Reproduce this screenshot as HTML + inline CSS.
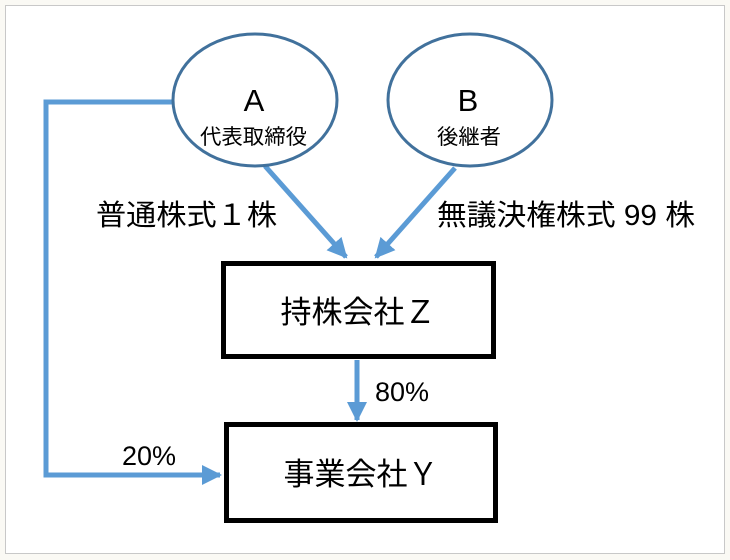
<!DOCTYPE html>
<html><head><meta charset="utf-8"><style>
html,body{margin:0;padding:0;background:#faf9f4;}
svg{display:block;font-family:"Liberation Sans","Noto Sans CJK JP",sans-serif;}
</style></head><body>
<svg width="730" height="560" viewBox="0 0 730 560" xmlns="http://www.w3.org/2000/svg">
<defs>
<marker id="ar" viewBox="0 0 10 10" refX="9" refY="5" markerWidth="4" markerHeight="4" orient="auto" markerUnits="strokeWidth">
<path d="M0,0 L10,5 L0,10 z" fill="#5b9bd5"/></marker>
</defs>
<rect x="5.5" y="5.5" width="719" height="548" fill="#fff" stroke="#c8c8c8" stroke-width="1"/>
<polyline points="173,102 46,102 46,475 220,475" fill="none" stroke="#5b9bd5" stroke-width="5" marker-end="url(#ar)"/>
<line x1="265" y1="166" x2="346" y2="257" stroke="#5b9bd5" stroke-width="5" marker-end="url(#ar)"/>
<line x1="455" y1="168" x2="376" y2="257" stroke="#5b9bd5" stroke-width="5" marker-end="url(#ar)"/>
<line x1="357" y1="360" x2="357" y2="420" stroke="#5b9bd5" stroke-width="5" marker-end="url(#ar)"/>
<ellipse cx="255" cy="100" rx="82" ry="66" fill="#fff" stroke="#41719c" stroke-width="3"/>
<ellipse cx="470" cy="100" rx="82" ry="66" fill="#fff" stroke="#41719c" stroke-width="3"/>
<text x="254" y="111" font-size="31" text-anchor="middle">A</text>
<text x="200" y="144" font-size="21" textLength="107" lengthAdjust="spacingAndGlyphs">代表取締役</text>
<text x="468" y="111" font-size="31" text-anchor="middle">B</text>
<text x="437" y="144" font-size="21" textLength="64" lengthAdjust="spacingAndGlyphs">後継者</text>
<text x="96" y="225" font-size="29" textLength="181" lengthAdjust="spacingAndGlyphs">普通株式１株</text>
<text x="437" y="225" font-size="29" textLength="258" lengthAdjust="spacingAndGlyphs">無議決権株式 99 株</text>
<rect x="223.5" y="263.5" width="270" height="93" fill="#fff" stroke="#000" stroke-width="5"/>
<text x="358" y="323" font-size="31" text-anchor="middle">持株会社Ｚ</text>
<text x="375" y="401" font-size="27">80%</text>
<rect x="226.5" y="424.5" width="269" height="96" fill="#fff" stroke="#000" stroke-width="5"/>
<text x="361" y="485" font-size="31" text-anchor="middle">事業会社Ｙ</text>
<text x="122" y="465" font-size="27">20%</text>
</svg>
</body></html>
